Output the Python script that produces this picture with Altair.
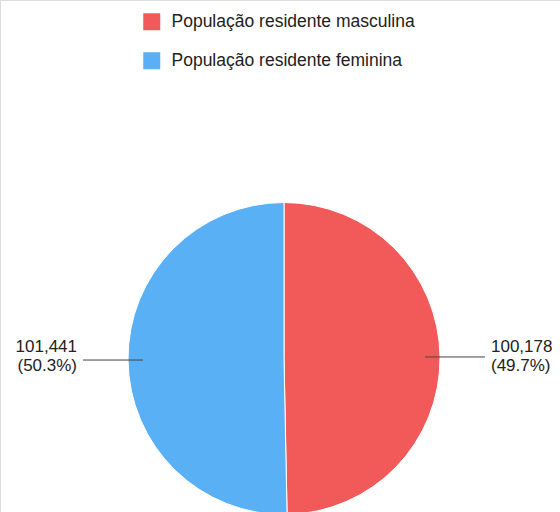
import math
import altair as alt
import pandas as pd

categories = ["População residente masculina", "População residente feminina"]
values = [100178, 101441]
colors = ["#F25A5A", "#5AB0F5"]

# geometry (pixels)
CX, CY, R = 284, 358.5, 156
R_IN, R_OUT, GAP = 141, 201, 6

total = sum(values)
rows = []
cum = 0
for i, (c, v) in enumerate(zip(categories, values)):
    start = cum / total * 2 * math.pi
    cum += v
    end = cum / total * 2 * math.pi
    mid = (start + end) / 2
    s = math.sin(mid)
    y = CY - R * math.cos(mid)
    side = 1 if s >= 0 else -1
    x_in = CX + side * R_IN
    x_out = CX + side * R_OUT
    rows.append({
        "cat": c, "value": v, "idx": i,
        "num": f"{v:,}",
        "pct": f"({v / total * 100:.1f}%)",
        "lx1": x_in, "lx2": x_out, "ly": y, "ty": CY,
        "tx": x_out + side * GAP,
        "align": "left" if side > 0 else "right",
    })
df = pd.DataFrame(rows)

base = alt.Chart(df)

pie = base.mark_arc(outerRadius=R, stroke="white", strokeWidth=1).encode(
    theta=alt.Theta("value:Q", stack=True),
    order=alt.Order("idx:Q"),
    color=alt.Color(
        "cat:N",
        scale=alt.Scale(domain=categories, range=colors),
        sort=categories,
        legend=alt.Legend(
            title=None, orient="none", legendX=143, legendY=13,
            symbolType="square", symbolSize=289, symbolStrokeWidth=0,
            labelFontSize=17.5, labelFont="Liberation Sans", labelColor="#222222",
            labelLimit=0, rowPadding=20, labelOffset=11, padding=0,
        ),
    ),
    x=alt.value(CX),
    y=alt.value(CY),
)

lines = base.mark_rule(color="#444444", strokeWidth=1).encode(
    x=alt.X("lx1:Q", scale=None),
    x2="lx2:Q",
    y=alt.Y("ly:Q", scale=None),
)


def label_layer(align, field, dy):
    return base.transform_filter(f"datum.align == '{align}'").mark_text(
        align=align, baseline="middle", dy=dy,
        font="Liberation Sans", fontSize=17, color="#222222",
    ).encode(
        x=alt.X("tx:Q", scale=None),
        y=alt.Y("ty:Q", scale=None),
        text=f"{field}:N",
    )


texts = [
    label_layer("left", "num", -11.5),
    label_layer("left", "pct", 7.5),
    label_layer("right", "num", -11.5),
    label_layer("right", "pct", 7.5),
]

chart = alt.layer(pie, lines, *texts).properties(
    width=560, height=512, autosize=alt.AutoSizeParams(type="none"), padding=0,
).configure_view(stroke="transparent", strokeWidth=0).configure(background="white")

chart.save("out.html", embed_options={"renderer": "svg", "actions": False})
